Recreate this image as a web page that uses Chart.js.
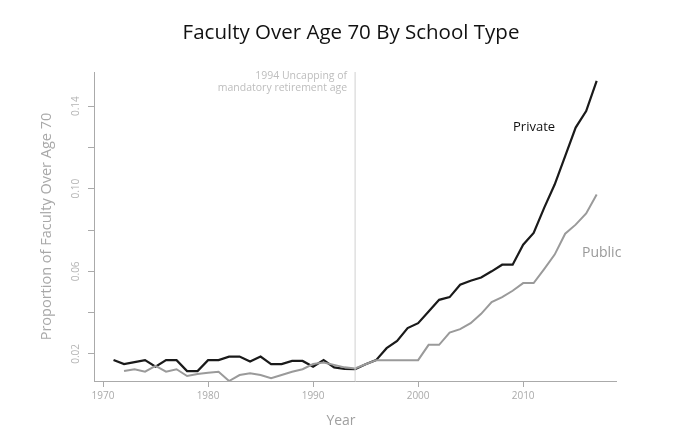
<!DOCTYPE html>
<html>
<head>
<meta charset="utf-8">
<script src="https://cdn.jsdelivr.net/npm/chart.js@4/dist/chart.umd.min.js"></script>
<style>
  html, body { margin: 0; padding: 0; background: #fff; }
  #wrap { width: 676px; height: 441px; position: relative; }
</style>
</head>
<body>
<div id="wrap"><canvas id="c" width="676" height="441"></canvas></div>
<script>
const years = [1971,1972,1973,1974,1975,1976,1977,1978,1979,1980,1981,1982,1983,1984,1985,1986,1987,1988,1989,1990,1991,1992,1993,1994,1995,1996,1997,1998,1999,2000,2001,2002,2003,2004,2005,2006,2007,2008,2009,2010,2011,2012,2013,2014,2015,2016,2017];
const privateValues = [0.0171,0.0151,0.0160,0.0170,0.0138,0.0170,0.0170,0.0117,0.0117,0.0170,0.0170,0.0187,0.0187,0.0163,0.0187,0.0151,0.0151,0.0166,0.0166,0.0138,0.0170,0.0135,0.0127,0.0126,0.0150,0.0170,0.0228,0.0263,0.0325,0.0349,0.0405,0.0462,0.0475,0.0535,0.0554,0.0570,0.0600,0.0632,0.0632,0.0729,0.0786,0.0907,0.1020,0.1158,0.1296,0.1376,0.1522];
const publicYears = years.slice(1);
const publicValues = [0.0117,0.0126,0.0114,0.0142,0.0114,0.0126,0.0093,0.0103,0.0109,0.0114,0.0069,0.0098,0.0106,0.0098,0.0082,0.0098,0.0114,0.0126,0.0151,0.0158,0.0147,0.0135,0.0130,0.0150,0.0170,0.0170,0.0170,0.0170,0.0170,0.0244,0.0244,0.0303,0.0320,0.0349,0.0394,0.0451,0.0475,0.0506,0.0543,0.0543,0.0611,0.0681,0.0782,0.0826,0.0880,0.0972];
const xTickValues = [1970,1980,1990,2000,2010];
const yTickValues = [0.02,0.04,0.06,0.08,0.10,0.12,0.14];
const yTickLabels = ['0.02','','0.06','','0.10','','0.14'];
const eventYear = 1994;
const xMin = 1969.14, xMax = 2018.84, yMin = 0.0069, yMax = 0.1565;

const FONT = '"Open Sans", Lato, sans-serif';

const textPlugin = {
  id: 'texts',
  afterDraw(chart) {
    const ctx = chart.ctx;
    const xs = chart.scales.x, ys = chart.scales.y;
    const ca = chart.chartArea;
    ctx.save();
    // title
    ctx.fillStyle = '#111';
    ctx.font = '20.5px ' + FONT;
    ctx.textAlign = 'center';
    ctx.textBaseline = 'middle';
    ctx.fillText('Faculty Over Age 70 By School Type', 351, 33);
    // y tick labels (rotated)
    ctx.fillStyle = '#b5b5b5';
    ctx.font = '10px ' + FONT;
    yTickValues.forEach((v, i) => {
      if (!yTickLabels[i]) return;
      const py = ys.getPixelForValue(v);
      ctx.save();
      ctx.translate(76, py);
      ctx.rotate(-Math.PI / 2);
      ctx.textAlign = 'center';
      ctx.textBaseline = 'middle';
      ctx.fillText(yTickLabels[i], 0, 0);
      ctx.restore();
    });
    // y title
    ctx.save();
    ctx.fillStyle = '#a8a8a8';
    ctx.font = '14.5px ' + FONT;
    ctx.translate(47, (ca.top + ca.bottom) / 2);
    ctx.rotate(-Math.PI / 2);
    ctx.textAlign = 'center';
    ctx.textBaseline = 'middle';
    ctx.fillText('Proportion of Faculty Over Age 70', 0, 0);
    ctx.restore();
    // x title
    ctx.fillStyle = '#a0a0a0';
    ctx.font = '14px ' + FONT;
    ctx.textAlign = 'center';
    ctx.textBaseline = 'middle';
    ctx.fillText('Year', 341, 421);
    // annotation
    const ex = xs.getPixelForValue(eventYear);
    ctx.fillStyle = '#bdbdbd';
    ctx.font = '10.5px ' + FONT;
    ctx.textAlign = 'right';
    ctx.fillText('1994 Uncapping of', ex - 8, 76);
    ctx.fillText('mandatory retirement age', ex - 8, 88);
    // series labels
    ctx.font = '13px ' + FONT;
    ctx.textAlign = 'left';
    ctx.fillStyle = '#111';
    ctx.fillText('Private', 513, 127);
    ctx.fillStyle = '#999';
    ctx.font = '14px ' + FONT;
    ctx.fillText('Public', 582, 253);
    ctx.restore();
  }
};

new Chart(document.getElementById('c'), {
  type: 'line',
  data: {
    datasets: [
      {
        label: 'Event',
        data: [{x: eventYear, y: yMin}, {x: eventYear, y: yMax}],
        borderColor: '#d0d0d0', borderWidth: 1, pointRadius: 0, tension: 0
      },
      {
        label: 'Public',
        data: publicYears.map((y, i) => ({x: y, y: publicValues[i]})),
        borderColor: '#9a9a9a', borderWidth: 2, pointRadius: 0, tension: 0
      },
      {
        label: 'Private',
        data: years.map((y, i) => ({x: y, y: privateValues[i]})),
        borderColor: '#1a1a1a', borderWidth: 2.2, pointRadius: 0, tension: 0
      }
    ]
  },
  options: {
    responsive: false,
    animation: false,
    layout: { padding: { top: 72, right: 60, left: 0, bottom: 0 } },
    plugins: { legend: { display: false }, tooltip: { enabled: false }, title: { display: false } },
    scales: {
      x: {
        type: 'linear', min: xMin, max: xMax,
        afterBuildTicks: s => { s.ticks = xTickValues.map(v => ({value: v})); },
        afterFit: s => { s.height = 60; },
        grid: { drawOnChartArea: false, drawTicks: true, tickLength: 6, color: '#aaa' },
        border: { display: true, color: '#aaa', width: 1 },
        ticks: { color: '#aaa', font: { size: 10, family: FONT }, padding: 3, maxRotation: 0, callback: v => String(v) }
      },
      y: {
        type: 'linear', min: yMin, max: yMax,
        afterBuildTicks: s => { s.ticks = yTickValues.map(v => ({value: v})); },
        afterFit: s => { s.width = 94; },
        grid: { drawOnChartArea: false, drawTicks: true, tickLength: 6, color: '#aaa' },
        border: { display: true, color: '#aaa', width: 1 },
        ticks: { display: false }
      }
    }
  },
  plugins: [textPlugin]
});
</script>
</body>
</html>
